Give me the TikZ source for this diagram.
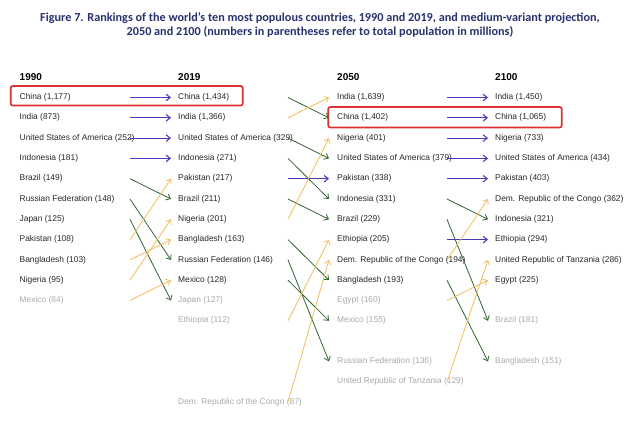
\documentclass[tikz,border=0pt]{standalone}
\usepackage{fontspec}
\setmainfont{Liberation Sans}
\newfontfamily\titlefont{Carlito}
\usetikzlibrary{arrows.meta}
\definecolor{titleblue}{RGB}{40,50,110}
\definecolor{itemtext}{RGB}{40,40,40}
\definecolor{fadegray}{RGB}{170,170,170}
\definecolor{arrblue}{RGB}{70,60,190}
\definecolor{arrgreen}{RGB}{50,100,50}
\definecolor{arryellow}{RGB}{240,190,90}
\definecolor{hlred}{RGB}{220,50,50}
\begin{document}
\begin{tikzpicture}[x=1pt,y=-1pt,
  item/.style={anchor=west,inner sep=0pt,font=\fontsize{8.4}{10}\selectfont,text=itemtext},
  faded/.style={item,text=fadegray},
  yearlbl/.style={anchor=west,inner sep=0pt,font=\fontsize{10}{12}\selectfont\bfseries,text=black},
  tip/.style={-{Straight Barb[length=4pt,width=6.5pt]}},
  same/.style={tip,draw=arrblue,line width=1.1pt},
  down/.style={tip,draw=arrgreen,line width=0.8pt},
  up/.style={tip,draw=arryellow,line width=0.8pt},
  hl/.style={draw=hlred,line width=1.7pt,rounded corners=2pt}]
\useasboundingbox (0,0) rectangle (640,421);
\fill[white] (0,0) rectangle (640,421);

\node[font=\titlefont\bfseries\fontsize{12.2}{14}\selectfont,text=titleblue,align=center] (title) at (320,25)
  {Figure 7. Rankings of the world’s ten most populous countries, 1990 and 2019, and medium-variant projection,\\
   2050 and 2100 (numbers in parentheses refer to total population in millions)};

% headers
\node[yearlbl] (h1) at (19.5,77) {1990};
\node[yearlbl] (h2) at (178,77) {2019};
\node[yearlbl] (h3) at (337,77) {2050};
\node[yearlbl] (h4) at (495,77) {2100};

% 1990
\node[item] (a-chn) at (19.5,97.5) {China (1,177)};
\node[item] (a-ind) at (19.5,117.8) {India (873)};
\node[item] (a-usa) at (19.5,138.1) {United States of America (252)};
\node[item] (a-idn) at (19.5,158.4) {Indonesia (181)};
\node[item] (a-bra) at (19.5,178.7) {Brazil (149)};
\node[item] (a-rus) at (19.5,199.0) {Russian Federation (148)};
\node[item] (a-jpn) at (19.5,219.3) {Japan (125)};
\node[item] (a-pak) at (19.5,239.6) {Pakistan (108)};
\node[item] (a-bgd) at (19.5,259.9) {Bangladesh (103)};
\node[item] (a-nga) at (19.5,280.2) {Nigeria (95)};
\node[faded] (a-mex) at (19.5,300.5) {Mexico (84)};

% 2019
\node[item] (b-chn) at (178,97.5) {China (1,434)};
\node[item] (b-ind) at (178,117.8) {India (1,366)};
\node[item] (b-usa) at (178,138.1) {United States of America (329)};
\node[item] (b-idn) at (178,158.4) {Indonesia (271)};
\node[item] (b-pak) at (178,178.7) {Pakistan (217)};
\node[item] (b-bra) at (178,199.0) {Brazil (211)};
\node[item] (b-nga) at (178,219.3) {Nigeria (201)};
\node[item] (b-bgd) at (178,239.6) {Bangladesh (163)};
\node[item] (b-rus) at (178,259.9) {Russian Federation (146)};
\node[item] (b-mex) at (178,280.2) {Mexico (128)};
\node[faded] (b-jpn) at (178,300.5) {Japan (127)};
\node[faded] (b-eth) at (178,320.8) {Ethiopia (112)};
\node[faded] (b-cod) at (178,402.0) {Dem. Republic of the Congo (87)};

% 2050
\node[item] (c-ind) at (337,97.5) {India (1,639)};
\node[item] (c-chn) at (337,117.8) {China (1,402)};
\node[item] (c-nga) at (337,138.1) {Nigeria (401)};
\node[item] (c-usa) at (337,158.4) {United States of America (379)};
\node[item] (c-pak) at (337,178.7) {Pakistan (338)};
\node[item] (c-idn) at (337,199.0) {Indonesia (331)};
\node[item] (c-bra) at (337,219.3) {Brazil (229)};
\node[item] (c-eth) at (337,239.6) {Ethiopia (205)};
\node[item] (c-cod) at (337,259.9) {Dem. Republic of the Congo (194)};
\node[item] (c-bgd) at (337,280.2) {Bangladesh (193)};
\node[faded] (c-egy) at (337,300.5) {Egypt (160)};
\node[faded] (c-mex) at (337,320.8) {Mexico (155)};
\node[faded] (c-rus) at (337,361.4) {Russian Federation (136)};
\node[faded] (c-tza) at (337,381.7) {United Republic of Tanzania (129)};

% 2100
\node[item] (d-ind) at (495,97.5) {India (1,450)};
\node[item] (d-chn) at (495,117.8) {China (1,065)};
\node[item] (d-nga) at (495,138.1) {Nigeria (733)};
\node[item] (d-usa) at (495,158.4) {United States of America (434)};
\node[item] (d-pak) at (495,178.7) {Pakistan (403)};
\node[item] (d-cod) at (495,199.0) {Dem. Republic of the Congo (362)};
\node[item] (d-idn) at (495,219.3) {Indonesia (321)};
\node[item] (d-eth) at (495,239.6) {Ethiopia (294)};
\node[item] (d-tza) at (495,259.9) {United Republic of Tanzania (286)};
\node[item] (d-egy) at (495,280.2) {Egypt (225)};
\node[faded] (d-bra) at (495,320.8) {Brazil (181)};
\node[faded] (d-bgd) at (495,361.4) {Bangladesh (151)};

% highlight boxes
\draw[hl] (10.7,86) rectangle (242.7,105.5);
\draw[hl] (328.3,107) rectangle (561.7,127.5);

% 1990 -> 2019
\foreach \s/\t/\k in {chn/chn/same,ind/ind/same,usa/usa/same,idn/idn/same,
  bra/bra/down,rus/rus/down,jpn/jpn/down,
  pak/pak/up,bgd/bgd/up,nga/nga/up,mex/mex/up}
  \draw[\k] ([xshift=110.5pt]a-\s.west) -- ([xshift=-7pt]b-\t.west);

% 2019 -> 2050
\foreach \s/\t/\k in {pak/pak/same,
  chn/chn/down,usa/usa/down,idn/idn/down,bra/bra/down,bgd/bgd/down,rus/rus/down,mex/mex/down,
  ind/ind/up,nga/nga/up,eth/eth/up,cod/cod/up}
  \draw[\k] ([xshift=110pt]b-\s.west) -- ([xshift=-8pt]c-\t.west);

% 2050 -> 2100
\foreach \s/\t/\k in {ind/ind/same,chn/chn/same,nga/nga/same,usa/usa/same,pak/pak/same,eth/eth/same,
  idn/idn/down,bra/bra/down,bgd/bgd/down,
  cod/cod/up,egy/egy/up,tza/tza/up}
  \draw[\k] ([xshift=110pt]c-\s.west) -- ([xshift=-7pt]d-\t.west);
\end{tikzpicture}
\end{document}
